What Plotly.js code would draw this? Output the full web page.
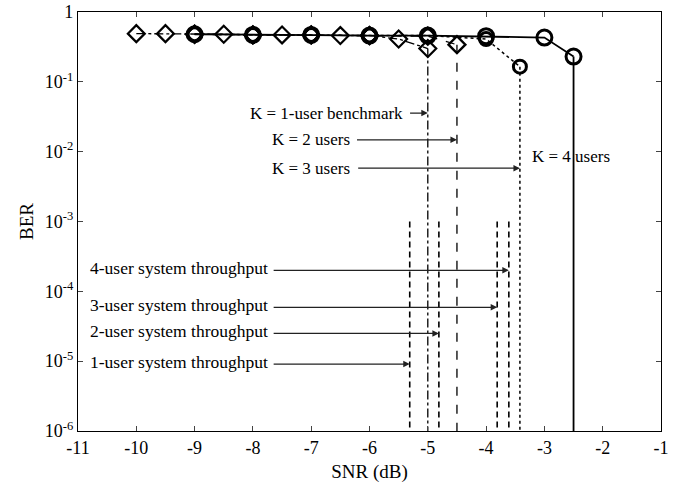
<!DOCTYPE html>
<html>
<head>
<meta charset="utf-8">
<script src="https://cdn.plot.ly/plotly-3.0.1.min.js"></script>
<style>html,body{margin:0;padding:0;background:#fff;}#chart{width:691px;height:483px;}</style>
</head>
<body>
<div id="chart"></div>
<script>
// ---- data ----
const snrK1 = [-10, -9.5, -9, -8.5, -8, -7.5, -7, -6.5, -6, -5.5, -5];
const berK1 = [0.49, 0.49, 0.48, 0.48, 0.47, 0.47, 0.47, 0.46, 0.46, 0.41, 0.30];
const snrK2 = [-9, -8, -7, -6, -5, -4.5];
const berK2 = [0.48, 0.47, 0.47, 0.46, 0.45, 0.34];
const snrK3 = [-9, -8, -7, -6, -5, -4, -3.42];
const berK3 = [0.48, 0.47, 0.47, 0.46, 0.46, 0.41, 0.165];
const snrK4 = [-9, -8, -7, -6, -5, -4, -3, -2.5];
const berK4 = [0.48, 0.47, 0.47, 0.46, 0.46, 0.45, 0.43, 0.23];

const kLabels = ["K = 1-user benchmark", "K = 2 users", "K = 3 users", "K = 4 users"];
const kLabelBER = [0.0357, 0.0148, 0.0058, 0.0084];

const tpLabels = ["1-user system throughput", "2-user system throughput", "3-user system throughput", "4-user system throughput"];
const tpSNR = [-5.31, -4.81, -3.81, -3.61];
const tpBER = [9.1e-6, 2.5e-5, 5.9e-5, 2.0e-4];
const tpTopBER = 1e-3;

const xTicks = [-11, -10, -9, -8, -7, -6, -5, -4, -3, -2, -1];
const xTickText = ["-11", "-10", "-9", "-8", "-7", "-6", "-5", "-4", "-3", "-2", "-1"];
const yTicks = [1e-6, 1e-5, 1e-4, 1e-3, 1e-2, 1e-1, 1];
const yTickText = ["10<sup>-6</sup>", "10<sup>-5</sup>", "10<sup>-4</sup>", "10<sup>-3</sup>", "10<sup>-2</sup>", "10<sup>-1</sup>", "1"];

const floorBER = 1e-6;
const FONT = "Liberation Serif, Times New Roman, serif";

const series = [
  {x: snrK1, y: berK1, dash: "dashdot", sym: "diamond-open", size: 13, w: 1.3, mw: 2.2},
  {x: snrK2, y: berK2, dash: "dash", sym: "diamond-open", size: 13, w: 1.3, mw: 2.4},
  {x: snrK3, y: berK3, dash: "dot", sym: "circle-open", size: 13, w: 1.5, mw: 3},
  {x: snrK4, y: berK4, dash: "solid", sym: "circle-open", size: 15, w: 1.8, mw: 3}
];

const traces = [];
series.forEach(s => {
  const lx = s.x[s.x.length - 1], ly = s.y[s.y.length - 1];
  traces.push({x: [lx, lx], y: [ly, floorBER], mode: "lines",
    line: {color: "#000", width: s.w, dash: s.dash}, hoverinfo: "skip", showlegend: false});
});
series.forEach(s => {
  traces.push({x: s.x, y: s.y, mode: "lines+markers",
    line: {color: "#000", width: s.w, dash: s.dash},
    marker: {symbol: s.sym, size: s.size, color: "#000", line: {width: s.mw, color: "#000"}},
    showlegend: false});
});
tpSNR.forEach(v => {
  traces.push({x: [v, v], y: [tpTopBER, floorBER], mode: "lines",
    line: {color: "#000", width: 1.6, dash: "6px,4px"}, hoverinfo: "skip", showlegend: false});
});

const ann = [];
const kTextX = [-5.39, -6.30, -6.30, -2.54];
const kArrowFromX = [-5.33, -6.24, -6.22, null];
const kTargets = [snrK1[snrK1.length-1], snrK2[snrK2.length-1], snrK3[snrK3.length-1], snrK4[snrK4.length-1]];
kLabels.forEach((t, i) => {
  ann.push({x: kTextX[i], y: Math.log10(kLabelBER[i]), xref: "x", yref: "y", text: t,
    xanchor: i === 3 ? "center" : "right", yanchor: "middle", showarrow: false,
    font: {family: FONT, size: 17, color: "#000"}});
  if (kArrowFromX[i] !== null) {
    ann.push({x: kTargets[i], y: Math.log10(kLabelBER[i]), xref: "x", yref: "y",
      ax: kArrowFromX[i], ay: Math.log10(kLabelBER[i]), axref: "x", ayref: "y", text: "",
      showarrow: true, arrowhead: 2, arrowsize: 1, arrowwidth: 1.3, arrowcolor: "#222"});
  }
});
tpLabels.forEach((t, i) => {
  ann.push({x: -7.70, y: Math.log10(tpBER[i]), xref: "x", yref: "y", text: t,
    xanchor: "right", yanchor: "middle", yshift: 2, showarrow: false,
    font: {family: FONT, size: 17.5, color: "#000"}});
  ann.push({x: tpSNR[i], y: Math.log10(tpBER[i]), xref: "x", yref: "y",
    ax: -7.67, ay: Math.log10(tpBER[i]), axref: "x", ayref: "y", text: "",
    showarrow: true, arrowhead: 2, arrowsize: 1, arrowwidth: 1.3, arrowcolor: "#222"});
});

const layout = {
  width: 691, height: 483,
  margin: {l: 78, r: 30, t: 12, b: 52},
  paper_bgcolor: "#fff", plot_bgcolor: "#fff",
  font: {family: FONT, size: 18, color: "#000"},
  xaxis: {range: [-11, -1], tickvals: xTicks, ticktext: xTickText, ticks: "inside", ticklen: 5,
    showline: true, linecolor: "#000", linewidth: 1.2, mirror: "ticks", showgrid: false, zeroline: false,
    tickfont: {family: FONT, size: 18}, title: {text: "SNR (dB)", font: {family: FONT, size: 19}, standoff: 9}},
  yaxis: {type: "log", range: [-6, 0], tickvals: yTicks, ticktext: yTickText, ticks: "inside", ticklen: 5,
    showline: true, linecolor: "#000", linewidth: 1.2, mirror: "ticks", showgrid: false, zeroline: false,
    tickfont: {family: FONT, size: 18}, title: {text: "BER", font: {family: FONT, size: 19}, standoff: 6}},
  annotations: ann,
  showlegend: false
};

Plotly.newPlot("chart", traces, layout, {staticPlot: true, displayModeBar: false});
</script>
</body>
</html>
